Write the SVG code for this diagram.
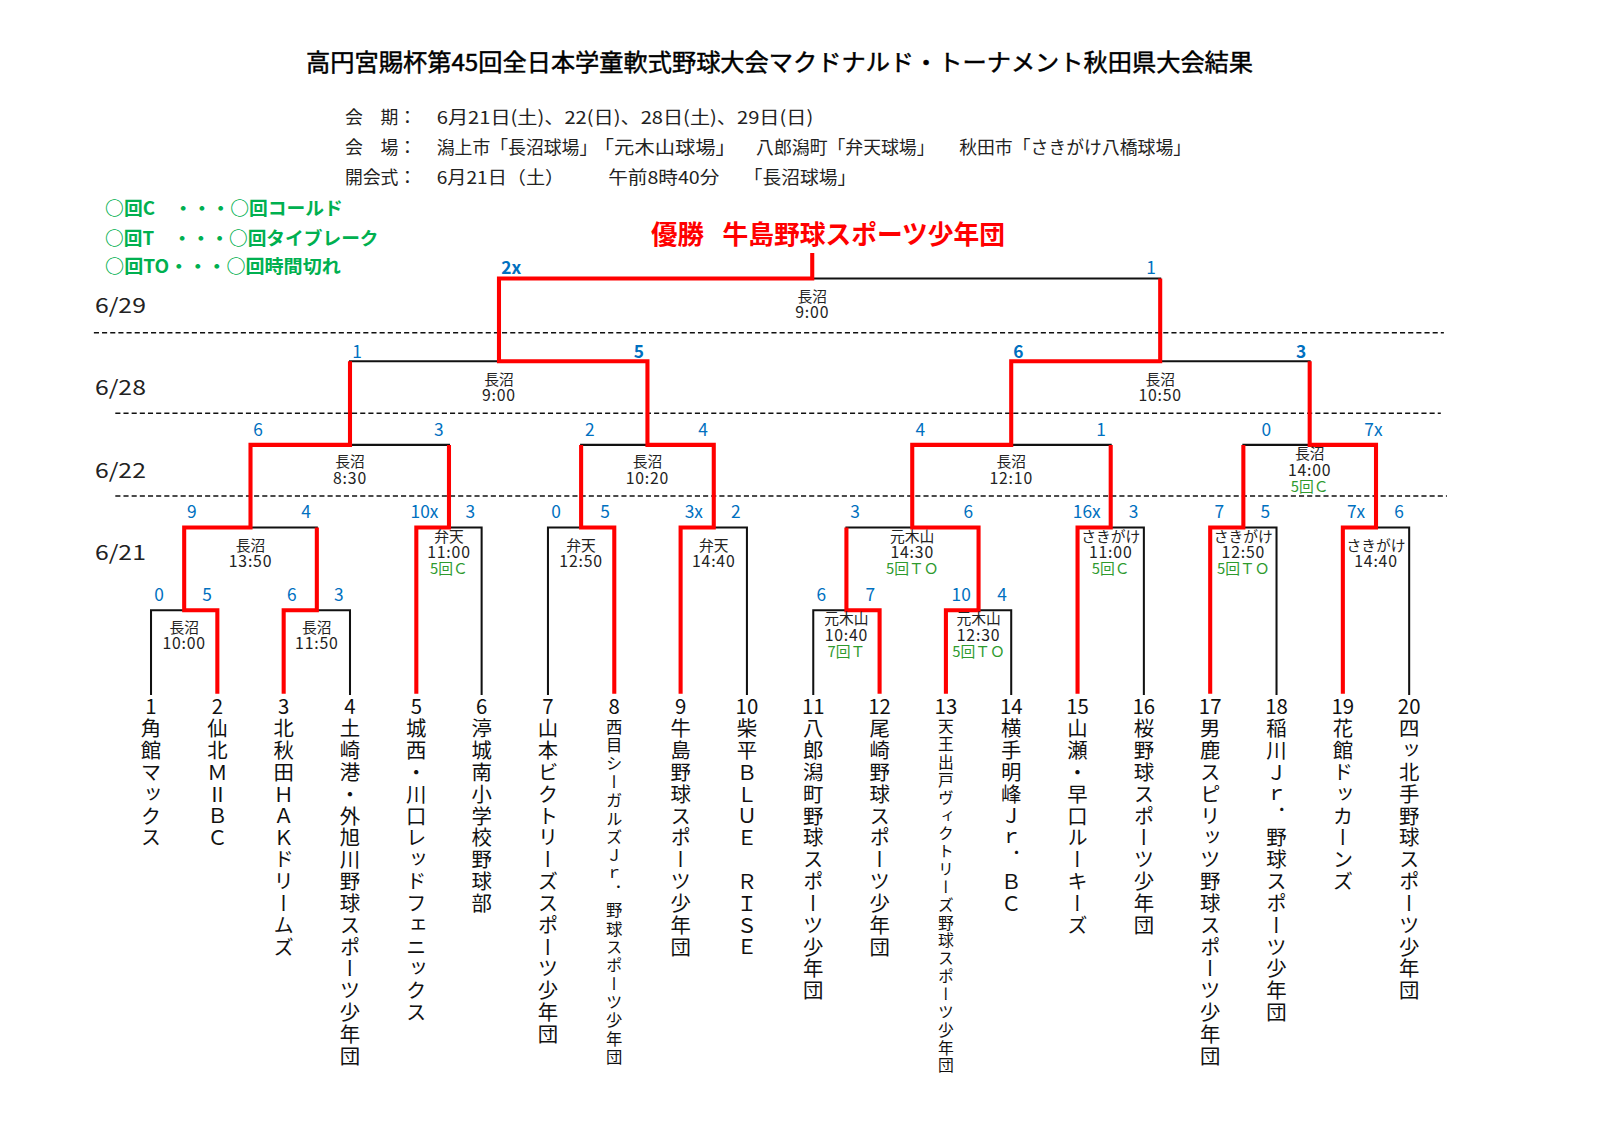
<svg xmlns="http://www.w3.org/2000/svg" width="1600" height="1130" viewBox="0 0 1600 1130">
<style>
text { font-family: "Noto Sans CJK JP", "Noto Sans", sans-serif; }
.title { font-size: 23px; fill: #000; stroke: #000; stroke-width: 0.45px; }
.info { font-size: 17.5px; fill: #222; }
.legend { font-size: 18px; fill: #00b050; font-weight: bold; }
.win { font-size: 26px; fill: #ff0000; font-weight: bold; }
.date { font-size: 20px; fill: #222; }
.score { font-size: 17px; fill: #0070c0; text-anchor: middle; }
.b { font-weight: bold; }
.venue { font-size: 14.5px; fill: #222; text-anchor: middle; }
.time { font-size: 15.5px; fill: #222; text-anchor: middle; letter-spacing: 0.8px; }
.note { font-size: 14.5px; fill: #2e9a2e; text-anchor: middle; }
.num { font-size: 20px; fill: #111; text-anchor: middle; }
.name { font-size: 20px; fill: #111; writing-mode: vertical-rl; letter-spacing: 1.4px; }
.red { stroke: #ff0000; stroke-width: 4; fill: none; stroke-linejoin: miter; }
.blk { stroke: #111; stroke-width: 2; fill: none; stroke-linecap: square; }
.dash { stroke: #111; stroke-width: 1.5; stroke-dasharray: 5 3; fill: none; }
</style>
<rect width="1600" height="1130" fill="#fff"/>
<g id="sheet" transform="scale(1.0204)">

<g id="header">
<text class="title" x="300" y="70" textLength="928" lengthAdjust="spacingAndGlyphs">高円宮賜杯第45回全日本学童軟式野球大会マクドナルド・トーナメント秋田県大会結果</text>
<text class="info" x="338" y="122">会　期：</text>
<text class="info" x="428" y="122" textLength="369" lengthAdjust="spacingAndGlyphs">6月21日(土)、22(日)、28日(土)、29日(日)</text>
<text class="info" x="338" y="151">会　場：</text>
<text class="info" x="428" y="151">潟上市「長沼球場」</text>
<text class="info" x="582" y="151" textLength="139" lengthAdjust="spacingAndGlyphs">「元木山球場」</text>
<text class="info" x="741" y="151">八郎潟町「弁天球場」</text>
<text class="info" x="940" y="151">秋田市「さきがけ八橋球場」</text>
<text class="info" x="338" y="180">開会式：</text>
<text class="info" x="428" y="180" textLength="125" lengthAdjust="spacingAndGlyphs">6月21日（土）</text>
<text class="info" x="596" y="180" textLength="109" lengthAdjust="spacingAndGlyphs">午前8時40分</text>
<text class="info" x="729" y="180" textLength="110" lengthAdjust="spacingAndGlyphs">「長沼球場」</text>
</g>

<g id="legend">
<text class="legend" x="103" y="211" textLength="233" lengthAdjust="spacingAndGlyphs">○回C　・・・○回コールド</text>
<text class="legend" x="103" y="240" textLength="268" lengthAdjust="spacingAndGlyphs">○回T　・・・○回タイブレーク</text>
<text class="legend" x="103" y="268" textLength="231" lengthAdjust="spacingAndGlyphs">○回TO・・・○回時間切れ</text>
</g>

<g id="winner">
<text class="win" x="638" y="239">優勝</text>
<text class="win" x="708" y="239" textLength="277" lengthAdjust="spacingAndGlyphs">牛島野球スポーツ少年団</text>
</g>

<g id="dates">
<text class="date" x="93" y="307" textLength="50" lengthAdjust="spacingAndGlyphs">6/29</text>
<text class="date" x="93" y="387" textLength="50" lengthAdjust="spacingAndGlyphs">6/28</text>
<text class="date" x="93" y="468" textLength="50" lengthAdjust="spacingAndGlyphs">6/22</text>
<text class="date" x="93" y="549" textLength="50" lengthAdjust="spacingAndGlyphs">6/21</text>
</g>

<g id="connectors">
<line class="dash" x1="92" y1="326" x2="1415" y2="326"/>
<line class="dash" x1="113" y1="405" x2="1412" y2="405"/>
<line class="dash" x1="113" y1="486" x2="1418" y2="486"/>
<path class="blk" d="M148,680 V598 H180.5"/>
<path class="blk" d="M343,680 V598 H310.5"/>
<path class="blk" d="M797,680 V598 H829.5"/>
<path class="blk" d="M991,680 V598 H959"/>
<path class="blk" d="M472,680 V517 H440"/>
<path class="blk" d="M537,680 V517 H569.5"/>
<path class="blk" d="M732,680 V517 H699.5"/>
<path class="blk" d="M1121,680 V517 H1088.5"/>
<path class="blk" d="M1251,680 V517 H1218.5"/>
<path class="blk" d="M1381,680 V517 H1348.5"/>
<path class="blk" d="M245.5,517 H310.5"/>
<path class="blk" d="M829.5,517 H894"/>
<path class="blk" d="M343,436 H440"/>
<path class="blk" d="M569.5,436 H634.5"/>
<path class="blk" d="M991,436 H1088.5"/>
<path class="blk" d="M1218.5,436 H1283.5"/>
<path class="blk" d="M343,354 H489"/>
<path class="blk" d="M1137,354 H1283.5"/>
<path class="blk" d="M796,273 H1137"/>
<path class="red" d="M213,680 V598 H180.5 V517 H245.5 V436 H343 V354"/>
<path class="red" d="M278,680 V598 H310.5 V517"/>
<path class="red" d="M408,680 V517 H440 V436"/>
<path class="red" d="M602,680 V517 H569.5 V436"/>
<path class="red" d="M667,680 V517 H699.5 V436 H634.5 V354 H489 V273 H796 V248"/>
<path class="red" d="M862,680 V598 H829.5 V517"/>
<path class="red" d="M927,680 V598 H959 V517 H894 V436 H991 V354 H1137 V273"/>
<path class="red" d="M1056,680 V517 H1088.5 V436"/>
<path class="red" d="M1186,680 V517 H1218.5 V436"/>
<path class="red" d="M1316,680 V517 H1348.5 V436 H1283.5 V354"/>
</g>

<g id="match-final">
<text class="venue" x="796" y="296">長沼</text>
<text class="time" x="796" y="312">9:00</text>
<text class="score b" x="501" y="269">2x</text>
<text class="score" x="1128" y="269">1</text>
</g>
<g id="match-sf1">
<text class="venue" x="489" y="377">長沼</text>
<text class="time" x="489" y="393">9:00</text>
<text class="score" x="350" y="351">1</text>
<text class="score b" x="626" y="351">5</text>
</g>
<g id="match-sf2">
<text class="venue" x="1137" y="377">長沼</text>
<text class="time" x="1137" y="393">10:50</text>
<text class="score b" x="998" y="351">6</text>
<text class="score b" x="1275" y="351">3</text>
</g>
<g id="match-qf1">
<text class="venue" x="343" y="458">長沼</text>
<text class="time" x="343" y="474">8:30</text>
<text class="score" x="253" y="427">6</text>
<text class="score" x="430" y="427">3</text>
</g>
<g id="match-qf2">
<text class="venue" x="634.5" y="458">長沼</text>
<text class="time" x="634.5" y="474">10:20</text>
<text class="score" x="578" y="427">2</text>
<text class="score" x="689" y="427">4</text>
</g>
<g id="match-qf3">
<text class="venue" x="991" y="458">長沼</text>
<text class="time" x="991" y="474">12:10</text>
<text class="score" x="902" y="427">4</text>
<text class="score" x="1079" y="427">1</text>
</g>
<g id="match-qf4">
<text class="venue" x="1283.5" y="450">長沼</text>
<text class="time" x="1283.5" y="466">14:00</text>
<text class="note" x="1283.5" y="482">5回Ｃ</text>
<text class="score" x="1241" y="427">0</text>
<text class="score" x="1346" y="427">7x</text>
</g>
<g id="match-r2a">
<text class="venue" x="245.5" y="540">長沼</text>
<text class="time" x="245.5" y="556">13:50</text>
<text class="score" x="188" y="508">9</text>
<text class="score" x="300" y="508">4</text>
</g>
<g id="match-r2b">
<text class="venue" x="440" y="531">弁天</text>
<text class="time" x="440" y="547">11:00</text>
<text class="note" x="440" y="563">5回Ｃ</text>
<text class="score" x="416" y="508">10x</text>
<text class="score" x="461" y="508">3</text>
</g>
<g id="match-r2c">
<text class="venue" x="569.5" y="540">弁天</text>
<text class="time" x="569.5" y="556">12:50</text>
<text class="score" x="545" y="508">0</text>
<text class="score" x="593" y="508">5</text>
</g>
<g id="match-r2d">
<text class="venue" x="699.5" y="540">弁天</text>
<text class="time" x="699.5" y="556">14:40</text>
<text class="score" x="680" y="508">3x</text>
<text class="score" x="721" y="508">2</text>
</g>
<g id="match-r2e">
<text class="venue" x="894" y="531">元木山</text>
<text class="time" x="894" y="547">14:30</text>
<text class="note" x="894" y="563">5回ＴＯ</text>
<text class="score" x="838" y="508">3</text>
<text class="score" x="949" y="508">6</text>
</g>
<g id="match-r2f">
<text class="venue" x="1088.5" y="531">さきがけ</text>
<text class="time" x="1088.5" y="547">11:00</text>
<text class="note" x="1088.5" y="563">5回Ｃ</text>
<text class="score" x="1065" y="508">16x</text>
<text class="score" x="1111" y="508">3</text>
</g>
<g id="match-r2g">
<text class="venue" x="1218.5" y="531">さきがけ</text>
<text class="time" x="1218.5" y="547">12:50</text>
<text class="note" x="1218.5" y="563">5回ＴＯ</text>
<text class="score" x="1195" y="508">7</text>
<text class="score" x="1240" y="508">5</text>
</g>
<g id="match-r2h">
<text class="venue" x="1348.5" y="540">さきがけ</text>
<text class="time" x="1348.5" y="556">14:40</text>
<text class="score" x="1329" y="508">7x</text>
<text class="score" x="1371" y="508">6</text>
</g>
<g id="match-r1a">
<text class="venue" x="180.5" y="620">長沼</text>
<text class="time" x="180.5" y="636">10:00</text>
<text class="score" x="156" y="589">0</text>
<text class="score" x="203" y="589">5</text>
</g>
<g id="match-r1b">
<text class="venue" x="310.5" y="620">長沼</text>
<text class="time" x="310.5" y="636">11:50</text>
<text class="score" x="286" y="589">6</text>
<text class="score" x="332" y="589">3</text>
</g>
<g id="match-r1c">
<text class="venue" x="829.5" y="612">元木山</text>
<text class="time" x="829.5" y="628">10:40</text>
<text class="note" x="829.5" y="644">7回Ｔ</text>
<text class="score" x="805" y="589">6</text>
<text class="score" x="853" y="589">7</text>
</g>
<g id="match-r1d">
<text class="venue" x="959" y="612">元木山</text>
<text class="time" x="959" y="628">12:30</text>
<text class="note" x="959" y="644">5回ＴＯ</text>
<text class="score" x="942" y="589">10</text>
<text class="score" x="982" y="589">4</text>
</g>

<g id="team-1"><text class="num" x="148" y="700">1</text><text class="name" x="148" y="704">角館マックス</text></g>
<g id="team-2"><text class="num" x="213" y="700">2</text><text class="name" x="213" y="704">仙北ＭⅡＢＣ</text></g>
<g id="team-3"><text class="num" x="278" y="700">3</text><text class="name" x="278" y="704">北秋田ＨＡＫドリームズ</text></g>
<g id="team-4"><text class="num" x="343" y="700">4</text><text class="name" x="343" y="704">土崎港・外旭川野球スポーツ少年団</text></g>
<g id="team-5"><text class="num" x="408" y="700">5</text><text class="name" x="408" y="704">城西・川口レッドフェニックス</text></g>
<g id="team-6"><text class="num" x="472" y="700">6</text><text class="name" x="472" y="704">渟城南小学校野球部</text></g>
<g id="team-7"><text class="num" x="537" y="700">7</text><text class="name" x="537" y="704">山本ビクトリーズスポーツ少年団</text></g>
<g id="team-8"><text class="num" x="602" y="700">8</text><text class="name" x="602" y="704" style="font-size:16px;letter-spacing:2px">西目シーガルズＪｒ．野球スポーツ少年団</text></g>
<g id="team-9"><text class="num" x="667" y="700">9</text><text class="name" x="667" y="704">牛島野球スポーツ少年団</text></g>
<g id="team-10"><text class="num" x="732" y="700">10</text><text class="name" x="732" y="704">柴平ＢＬＵＥ　ＲＩＳＥ</text></g>
<g id="team-11"><text class="num" x="797" y="700">11</text><text class="name" x="797" y="704">八郎潟町野球スポーツ少年団</text></g>
<g id="team-12"><text class="num" x="862" y="700">12</text><text class="name" x="862" y="704">尾崎野球スポーツ少年団</text></g>
<g id="team-13"><text class="num" x="927" y="700">13</text><text class="name" x="927" y="704" style="font-size:15.5px;letter-spacing:2px">天王出戸ヴィクトリーズ野球スポーツ少年団</text></g>
<g id="team-14"><text class="num" x="991" y="700">14</text><text class="name" x="991" y="704">横手明峰Ｊｒ．ＢＣ</text></g>
<g id="team-15"><text class="num" x="1056" y="700">15</text><text class="name" x="1056" y="704">山瀬・早口ルーキーズ</text></g>
<g id="team-16"><text class="num" x="1121" y="700">16</text><text class="name" x="1121" y="704">桜野球スポーツ少年団</text></g>
<g id="team-17"><text class="num" x="1186" y="700">17</text><text class="name" x="1186" y="704">男鹿スピリッツ野球スポーツ少年団</text></g>
<g id="team-18"><text class="num" x="1251" y="700">18</text><text class="name" x="1251" y="704">稲川Ｊｒ．野球スポーツ少年団</text></g>
<g id="team-19"><text class="num" x="1316" y="700">19</text><text class="name" x="1316" y="704">花館ドッカーンズ</text></g>
<g id="team-20"><text class="num" x="1381" y="700">20</text><text class="name" x="1381" y="704">四ッ北手野球スポーツ少年団</text></g>
</g>
</svg>
